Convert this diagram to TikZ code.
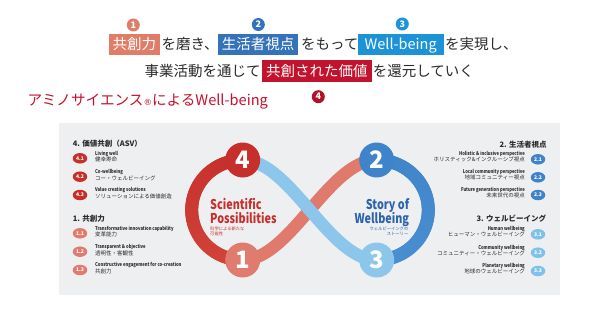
\documentclass[tikz,border=0pt]{standalone}
\usepackage{fontspec}
\setmainfont{Noto Sans CJK JP}
\newfontfamily\djv{DejaVu Sans}
\usetikzlibrary{shapes.geometric}
\definecolor{txt}{HTML}{2B2B2B}
\definecolor{cSal}{HTML}{E07D68}
\definecolor{cBlue}{HTML}{3572B9}
\definecolor{cSky}{HTML}{1C93D6}
\definecolor{cCrim}{HTML}{C1132E}
\definecolor{cDark}{HTML}{B3102A}
\definecolor{panel}{HTML}{EEEFF0}
\definecolor{lRed}{HTML}{C62F2C}
\definecolor{lRedB}{HTML}{D2463A}
\definecolor{lSal}{HTML}{DF7A6D}
\definecolor{lBlue}{HTML}{3F84CA}
\definecolor{lBlueB}{HTML}{4A8FD0}
\definecolor{lSky}{HTML}{8CC7EB}
\definecolor{tBlue}{HTML}{2B63AE}
\definecolor{pSal}{HTML}{E07B6F}
\definecolor{pBlue}{HTML}{3F84CB}
\definecolor{pSky}{HTML}{80C1EA}
\definecolor{hRed}{HTML}{C8102E}
\newcommand\entxt[1]{\scalebox{0.8}[1]{#1}}
\newcommand\cond[1]{\scalebox{0.8}[1]{#1}}
\newcommand\litem[6]{%
  \node[pill, fill=#4] (#1) at (80,#2) {#3};
  \node[entext, anchor=west] (#1e) at (95,#2-4.5) {\entxt{#5}};
  \node[jatext, anchor=west] (#1j) at (95,#2+1.5) {#6};
}
\newcommand\ritem[6]{%
  \node[pill, fill=#4] (#1) at (538,#2) {#3};
  \node[entext, anchor=east] (#1e) at (525,#2-5) {\entxt{#5}};
  \node[jatext, anchor=east] (#1j) at (525,#2+0.5) {#6};
}
\begin{document}
\begin{tikzpicture}[x=1pt,y=-1pt,
  ttl/.style={font=\fontsize{14.5}{16}\selectfont, text=txt, text height=12pt, text depth=1pt, inner sep=0pt},
  hbox/.style={ttl, text=white, inner xsep=4pt, inner ysep=0pt, minimum height=21pt},
  numc/.style={circle, minimum size=13pt, inner sep=0pt, text=white, font=\bfseries\fontsize{9}{9}\selectfont},
  big/.style={circle, minimum size=35pt, inner sep=0pt, text=white, font=\bfseries\fontsize{24}{24}\selectfont},
  band/.style={line width=12.5pt},
  pill/.style={ellipse, minimum width=14.5pt, minimum height=10.5pt, inner sep=0pt, text=white, font=\bfseries\fontsize{5}{5}\selectfont},
  entext/.style={font=\bfseries\fontsize{5.2}{6}\selectfont, text=txt, text height=3.9pt, text depth=1pt, inner sep=0pt},
  jatext/.style={font=\fontsize{5.5}{6}\selectfont, text=txt, text height=4.6pt, text depth=0.4pt, inner sep=0pt},
  head/.style={font=\bfseries\fontsize{7.5}{8}\selectfont, text=txt, text height=6.2pt, text depth=0.5pt, inner sep=0pt},
  big1/.style={font=\bfseries\fontsize{13.5}{14}\selectfont, inner sep=0pt, text height=9.8pt, text depth=0pt},
  small1/.style={font=\fontsize{4.3}{5}\selectfont, inner sep=0pt, text height=3.6pt, text depth=0.3pt}
]
\useasboundingbox (0,0) rectangle (610,313);
\fill[white] (0,0) rectangle (610,313);
\fill[panel] (59,123) rectangle (560,295);

% ---- title
\node[numc, fill=cSal] (o1) at (133.3,25) {1};
\node[numc, fill=cBlue] (o2) at (258.3,24.5) {2};
\node[numc, fill=cSky] (o3) at (402.3,24) {3};
\node[numc, fill=cDark] (o4) at (318.3,96.7) {4};

\node[hbox, fill=cSal, anchor=west] (b1) at (108.3,44.5) {共創力};
\node[ttl, anchor=west] (t1) at (161.5,44.5) {を磨き、};
\node[hbox, fill=cBlue, anchor=west] (b2) at (217.7,44.5) {生活者視点};
\node[ttl, anchor=west] (t2) at (300.8,44.5) {をもって};
\node[hbox, fill=cSky, anchor=west, minimum width=85.6pt] (b3) at (357.7,44.5) {Well-being};
\node[ttl, anchor=west] (t3) at (444.8,44.5) {を実現し、};

\node[ttl, anchor=east] (t4) at (260.7,71) {事業活動を通じて};
\node[hbox, fill=cCrim, anchor=west, minimum width=110pt] (b4) at (261.7,71) {共創された価値};
\node[ttl, anchor=west] (t5) at (372.7,71) {を還元していく};

\node[ttl, text=hRed, font=\fontsize{14.6}{16}\selectfont, anchor=west] (mt) at (27.3,100)
  {アミノサイエンス{\djv\fontsize{8.5}{9}\selectfont ®}によるWell-being};

% ---- loop
\coordinate (k4) at (242.7,160);
\coordinate (k1) at (242.7,260);
\coordinate (k2) at (376.7,160);
\coordinate (k3) at (376.7,260);
\foreach \a in {90,93,...,267}{
  \pgfmathsetmacro\m{(\a-90)/180*100}
  \draw[line width=13pt, color=lRed!\m!lRedB, line cap=round]
    ({242.7+51*cos(\a)},{210+50*sin(\a)}) -- ({242.7+51*cos(\a+3)},{210+50*sin(\a+3)});
}
\foreach \a in {-90,-87,...,87}{
  \pgfmathsetmacro\m{(\a+90)/180*100}
  \draw[line width=13pt, color=lBlueB!\m!lBlue, line cap=round]
    ({376.7+51.6*cos(\a)},{210+50*sin(\a)}) -- ({376.7+51.6*cos(\a+3)},{210+50*sin(\a+3)});
}
\draw[band, lSal] (k1) .. controls +(47.3,0) and +(-47.3,0) .. (k2);
\draw[band, lSky] (k4) .. controls +(47.3,0) and +(-47.3,0) .. (k3);
\node[big, fill=lRed] (n4) at (k4) {4};
\node[big, fill=pSal] (n1) at (k1) {1};
\node[big, fill=lBlue] (n2) at (k2) {2};
\node[big, fill=lSky] (n3) at (k3) {3};

\node[big1, text=lRed, anchor=west] (s1) at (210,205) {\cond{Scientific}};
\node[big1, text=lRed, anchor=west] (s2) at (210,218.3) {\cond{Possibilities}};
\node[small1, text=lRed, anchor=west] (s3) at (210,229) {科学による新たな};
\node[small1, text=lRed, anchor=west] (s4) at (210,233.7) {可能性};
\node[big1, text=tBlue, anchor=east] (w1) at (409.3,205) {\cond{Story of}};
\node[big1, text=tBlue, anchor=east] (w2) at (409.3,218.3) {\cond{Wellbeing}};
\node[small1, text=tBlue, anchor=east] (w3) at (408.5,229) {ウェルビーイングの};
\node[small1, text=tBlue, anchor=east] (w4) at (408.5,233.7) {ストーリー};

% ---- left lists
\node[head, anchor=west] (h4) at (72.7,143.3) {4. 価値共創（ASV）};
\litem{a1}{158.3}{4.1}{lRed}{Living well}{健幸寿命}
\litem{a2}{176.7}{4.2}{lRed}{Co-wellbeing}{コー・ウェルビーイング}
\litem{a3}{195}{4.3}{lRed}{Value creating solutions}{ソリューションによる価値創造}
\node[head, anchor=west] (h1) at (72.7,219) {1. 共創力};
\litem{c1}{233.3}{1.1}{pSal}{Transformative innovation capability}{変革能力}
\litem{c2}{251.7}{1.2}{pSal}{Transparent \& objective}{透明性・客観性}
\litem{c3}{270}{1.3}{pSal}{Constructive engagement for co-creation}{共創力}

% ---- right lists
\node[head, anchor=east] (h2) at (546.7,144.3) {2. 生活者視点};
\ritem{d1}{159.3}{2.1}{pBlue}{Holistic \& inclusive perspective}{ホリスティック\&インクルーシブ視点}
\ritem{d2}{177.3}{2.2}{pBlue}{Local community perspective}{地域コミュニティー視点}
\ritem{d3}{195}{2.3}{pBlue}{Future generation perspective}{未来世代の視点}
\node[head, anchor=east] (h3) at (546.3,218.3) {3. ウェルビーイング};
\ritem{e1}{234.3}{3.1}{pSky}{Human wellbeing}{ヒューマン・ウェルビーイング}
\ritem{e2}{252.7}{3.2}{pSky}{Community wellbeing}{コミュニティー・ウェルビーイング}
\ritem{e3}{271}{3.3}{pSky}{Planetary wellbeing}{地球のウェルビーイング}
\end{tikzpicture}
\end{document}
